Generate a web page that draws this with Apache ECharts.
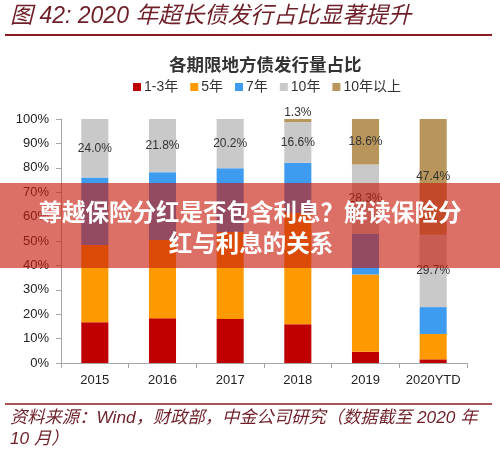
<!DOCTYPE html>
<html>
<head>
<meta charset="utf-8">
<script src="https://cdn.jsdelivr.net/npm/echarts@6/dist/echarts.min.js"></script>
<style>
html,body{margin:0;padding:0;background:#fff;}
#c{width:500px;height:452px;}
</style>
</head>
<body>
<div id="c"></div>
<script>
const categories = ['2015', '2016', '2017', '2018', '2019', '2020YTD'];
const seriesNames = ['1-3年', '5年', '7年', '10年', '10年以上'];
const y1to3 = [16.7, 18.3, 18.0, 15.9, 4.6, 1.5];
const y5 = [31.7, 32.1, 35.7, 45.6, 31.7, 10.4];
const y7 = [27.6, 27.8, 26.1, 20.6, 16.8, 11.0];
const y10 = [24.0, 21.8, 20.2, 16.6, 28.3, 29.7];
const y10plus = [0, 0, 0, 1.3, 18.6, 47.4];
const yTicks = [0, 10, 20, 30, 40, 50, 60, 70, 80, 90, 100];

const colors = ['#C00000', '#FF9900', '#3D9CF0', '#C9C9C9', '#B8955A'];
const FONT = '"Liberation Sans", "Noto Sans CJK SC", sans-serif';

const labelFmt = p => p.value > 0 ? p.value.toFixed(1) + '%' : '';

function mkSeries(name, data, idx, showLabel) {
  return {
    name: name,
    type: 'bar',
    stack: 'total',
    barWidth: '40%',
    data: data.map((v, i) => {
      const item = { value: v };
      if (showLabel && v > 0 && v < 5) {
        item.label = { position: 'top', distance: 0 };
      }
      return item;
    }),
    itemStyle: { color: colors[idx] },
    label: {
      show: showLabel,
      position: 'inside',
      formatter: labelFmt,
      color: '#333',
      fontSize: 12,
      fontFamily: FONT
    },
    emphasis: { disabled: true }
  };
}

const chart = echarts.init(document.getElementById('c'));
chart.setOption({
  animation: false,
  backgroundColor: '#fff',
  textStyle: { fontFamily: FONT },
  title: {
    text: '各期限地方债发行量占比',
    left: 164,
    top: 52,
    textStyle: { fontSize: 17.5, fontWeight: 'bold', color: '#333', fontFamily: FONT }
  },
  legend: {
    data: seriesNames,
    top: 75,
    left: 128,
    icon: 'rect',
    itemWidth: 8,
    itemHeight: 8,
    itemGap: 12,
    textStyle: { fontSize: 14, color: '#333', fontFamily: FONT, padding: [0, 0, 0, -2] }
  },
  grid: { left: 61, right: 33, top: 119, bottom: 89 },
  xAxis: {
    type: 'category',
    data: categories,
    axisLine: { lineStyle: { color: '#A6A6A6' } },
    axisTick: { show: true, alignWithLabel: false, lineStyle: { color: '#A6A6A6' } },
    axisLabel: { interval: 0, fontSize: 13, color: '#222', margin: 11, fontFamily: FONT }
  },
  yAxis: {
    type: 'value',
    min: 0,
    max: 100,
    interval: 10,
    axisLine: { show: true, lineStyle: { color: '#A6A6A6' } },
    axisTick: { show: true, lineStyle: { color: '#A6A6A6' } },
    splitLine: { show: false },
    axisLabel: {
      fontSize: 13, color: '#222', margin: 12, fontFamily: FONT,
      formatter: v => yTicks.indexOf(v) >= 0 ? v + '%' : ''
    }
  },
  series: [
    mkSeries(seriesNames[0], y1to3, 0, false),
    mkSeries(seriesNames[1], y5, 1, false),
    mkSeries(seriesNames[2], y7, 2, false),
    mkSeries(seriesNames[3], y10, 3, true),
    mkSeries(seriesNames[4], y10plus, 4, true)
  ],
  graphic: [
    {
      type: 'text', left: 10, top: 5, z: 10,
      style: {
        text: '图 42: 2020 年超长债发行占比显著提升',
        font: 'italic 23px "Liberation Sans", "Noto Sans CJK SC", sans-serif',
        fill: '#6E1F28'
      }
    },
    {
      type: 'line', z: 10,
      shape: { x1: 5, y1: 35, x2: 492, y2: 35 },
      style: { stroke: '#8B1A22', lineWidth: 2 }
    },
    {
      type: 'line', z: 10,
      shape: { x1: 5, y1: 404, x2: 492, y2: 404 },
      style: { stroke: '#8B1A22', lineWidth: 1.5 }
    },
    {
      type: 'text', left: 10, top: 408, z: 10,
      style: {
        text: '资料来源：Wind，财政部，中金公司研究（数据截至 2020 年\n10 月）',
        font: 'italic 17.3px "Liberation Sans", "Noto Sans CJK SC", sans-serif',
        fill: '#6E1F28',
        lineHeight: 21
      }
    },
    {
      type: 'rect', z: 100,
      shape: { x: 0, y: 183, width: 500, height: 85 },
      style: { fill: 'rgba(200, 28, 12, 0.63)' }
    },
    {
      type: 'text', z: 101,
      x: 250, y: 212,
      style: {
        text: '尊越保险分红是否包含利息？解读保险分',
        font: 'bold 23.5px "Noto Sans CJK SC", sans-serif',
        fill: '#fff',
        align: 'center',
        verticalAlign: 'middle'
      }
    },
    {
      type: 'text', z: 101,
      x: 251, y: 243,
      style: {
        text: '红与利息的关系',
        font: 'bold 23.5px "Noto Sans CJK SC", sans-serif',
        fill: '#fff',
        align: 'center',
        verticalAlign: 'middle'
      }
    }
  ]
});
</script>
</body>
</html>
